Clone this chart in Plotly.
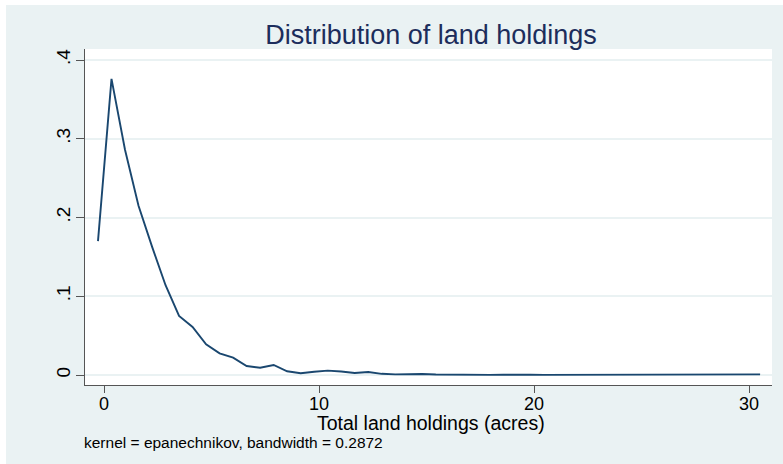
import plotly.graph_objects as go

# kernel density estimate values
x_start = -0.28
x_step = 0.6285
density = [0.170, 0.376, 0.286, 0.215, 0.163, 0.114, 0.075, 0.061, 0.039, 0.0275,
           0.022, 0.0114, 0.0093, 0.0127, 0.0047, 0.0022, 0.0042, 0.0055, 0.0045, 0.0025,
           0.0038, 0.0015, 0.0008, 0.0012, 0.0012, 0.0006, 0.0003, 0.0004, 0.0002, 0.0002,
           0.0003, 0.0006, 0.0004, 0.0002, 0.0002, 0.0004, 0.0002, 0.0002, 0.0003, 0.0006,
           0.0003, 0.0002, 0.0002, 0.0002, 0.0002, 0.0002, 0.0002, 0.0002, 0.0003, 0.0008]
land = [x_start + x_step * i for i in range(len(density))]

y_ticks = [0, 0.1, 0.2, 0.3, 0.4]
y_labels = ["0", ".1", ".2", ".3", ".4"]
x_ticks = [0, 10, 20, 30]
x_labels = ["0", "10", "20", "30"]

title = "Distribution of land holdings"
x_title = "Total land holdings (acres)"
note = "kernel = epanechnikov, bandwidth = 0.2872"

BG = "#eaf2f3"
FONT = "Liberation Sans, Arial, sans-serif"

fig = go.Figure()
fig.add_trace(go.Scatter(x=land, y=density, mode="lines",
                         line=dict(color="#1a476f", width=1.9),
                         hoverinfo="skip", showlegend=False))

fig.update_layout(
    width=777, height=459,
    margin=dict(l=79, r=11, t=44, b=79),
    paper_bgcolor=BG, plot_bgcolor="white",
    font=dict(family=FONT, color="black", size=15),
    title=dict(text=title, x=0.547, xanchor="center", y=0.935, yanchor="middle",
               font=dict(size=27, color="#1c2d5c", family=FONT)),
    xaxis=dict(range=[-0.884, 31.07], tickvals=x_ticks, ticktext=x_labels,
               showgrid=False, zeroline=False, showline=True, linecolor="#555555", linewidth=1.3,
               ticks="outside", ticklen=7, tickcolor="#555555", tickwidth=1.3,
               ticklabelstandoff=-5,
               tickfont=dict(size=18, color="black")),
    yaxis=dict(range=[-0.0127, 0.414], tickvals=y_ticks, ticktext=y_labels,
               showgrid=True, gridcolor=BG, gridwidth=1.5, zeroline=False,
               showline=True, linecolor="#555555", linewidth=1.3,
               ticks="outside", ticklen=8, tickcolor="#555555", tickwidth=1.3,
               ticklabelstandoff=-2,
               tickangle=-90, tickfont=dict(size=19, color="black")),
    annotations=[
        dict(text=x_title, xref="paper", yref="paper", x=0.503, y=-0.113,
             xanchor="center", yanchor="middle", showarrow=False,
             font=dict(size=19.5, color="black")),
        dict(text=note, xref="paper", yref="paper", x=-0.004, y=-0.172,
             xanchor="left", yanchor="middle", showarrow=False,
             font=dict(size=15.5, color="black")),
    ],
)

fig.write_html("out.html", post_script="document.body.style.margin='5px 0 0 6px';")
